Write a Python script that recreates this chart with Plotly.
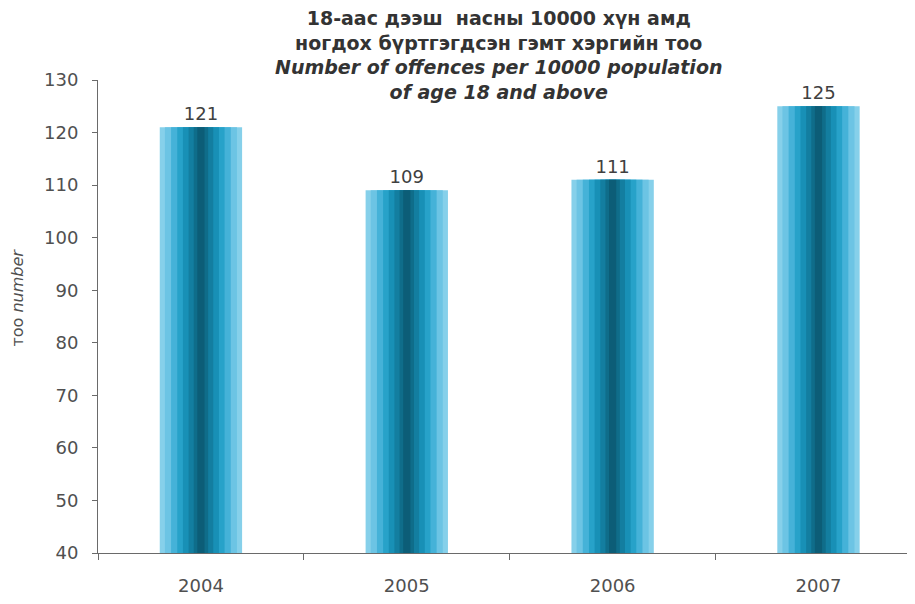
import plotly.graph_objs as go

# data
years = ['2004', '2005', '2006', '2007']
offences = [121, 109, 111, 125]
y_ticks = [40, 50, 60, 70, 80, 90, 100, 110, 120, 130]

# gradient bands for the cylinder-like bars: outside light -> centre dark
band_widths = [0.40, 0.35, 0.29, 0.23, 0.175, 0.12, 0.07, 0.035]
band_colors = ['#86d0ea', '#6cc4e4', '#45b2d8', '#27a2c9',
               '#1890b6', '#137ea0', '#0f6d8a', '#0c5d77']

fig = go.Figure()
for i, (w, c) in enumerate(zip(band_widths, band_colors)):
    fig.add_trace(go.Bar(x=years, y=offences,
                         width=w,
                         marker=dict(color=c, line=dict(width=0)),
                         text=[str(v) for v in offences] if i == 0 else None,
                         textposition='outside',
                         textfont=dict(size=18, color='#404040'),
                         cliponaxis=False,
                         hoverinfo='x+y' if i == 0 else 'skip',
                         showlegend=False))

title = ('<b>18-аас дээш  насны 10000 хүн амд<br>'
         'ногдох бүртгэгдсэн гэмт хэргийн тоо<br>'
         '<i>Number of offences per 10000 population<br>'
         'of age 18 and above</i></b>')

# page body has an 8px margin, so the figure is a bit smaller than the window
fig.add_annotation(text=title, xref='paper', yref='paper',
                   x=0.495, y=1.158, xanchor='center', yanchor='top',
                   showarrow=False, align='center',
                   font=dict(size=19, color='#333333'))

# y axis title placed by hand (it sits a bit above the middle)
fig.add_annotation(text='тоо <i>number</i>', xref='paper', yref='paper',
                   x=0, xshift=-80, y=0.54, xanchor='center', yanchor='middle',
                   textangle=-90, showarrow=False,
                   font=dict(size=16, color='#505050'))

fig.update_layout(
    width=899, height=588,
    margin=dict(l=90, r=0, t=72, b=43, autoexpand=False),
    plot_bgcolor='white', paper_bgcolor='white',
    barmode='overlay',
    font=dict(family='DejaVu Sans, Liberation Sans, Arial, sans-serif', color='#505050'),
    xaxis=dict(type='category', range=[-0.5, 3.43], automargin=False,
               showline=True, linecolor='#6a6a6a', linewidth=1,
               ticks='outside', tickson='boundaries', ticklen=6,
               tickcolor='#6a6a6a', ticklabelstandoff=16,
               tickfont=dict(size=18, color='#505050'),
               showgrid=False, zeroline=False),
    yaxis=dict(range=[40, 130], tickvals=y_ticks, automargin=False,
               showline=True, linecolor='#6a6a6a', linewidth=1,
               ticks='outside', ticklen=5, tickcolor='#6a6a6a',
               ticklabelstandoff=10,
               tickfont=dict(size=18, color='#505050'),
               showgrid=False, zeroline=False),
)

fig.write_html('out.html')
